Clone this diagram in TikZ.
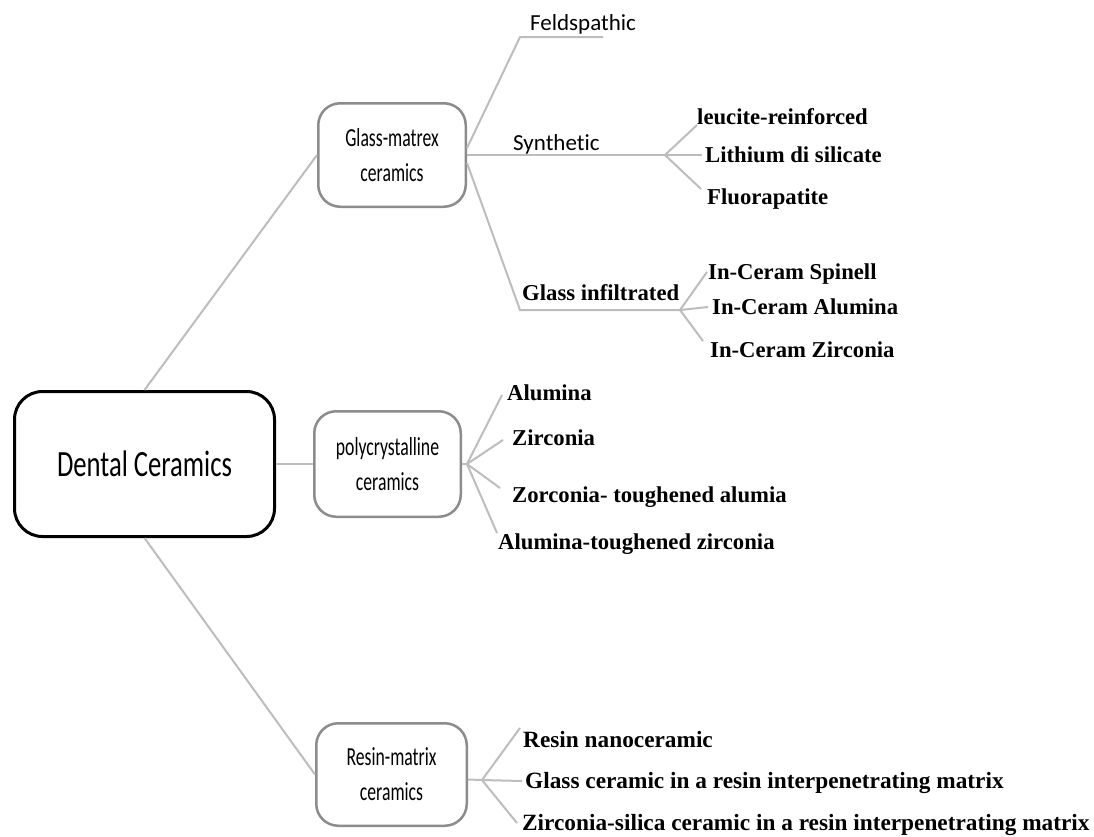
\documentclass[tikz,border=0pt]{standalone}
\usepackage{fontspec}
\newfontfamily\calfont[Ligatures=NoCommon]{Carlito}
\newfontfamily\tnrfont{Liberation Serif}
\definecolor{linegrey}{HTML}{BDBDBD}
\definecolor{boxgrey}{HTML}{8C8C8C}
\begin{document}
\begin{tikzpicture}[x=1pt,y=-1pt,
  conn/.style={draw=linegrey,line width=2pt},
  mainbox/.style={draw=black,line width=3pt,rounded corners=28pt,minimum width=260pt,minimum height=145pt,inner sep=0pt},
  catbox/.style={draw=boxgrey,line width=2.5pt,rounded corners=22pt,inner sep=0pt,align=center,font=\calfont\fontsize{26}{35}\selectfont},
  leaf/.style={anchor=west,inner sep=0pt,font=\tnrfont\bfseries\fontsize{22.7}{26}\selectfont,text height=15pt,text depth=0pt},
  rleaf/.style={leaf,font=\tnrfont\bfseries\fontsize{23.3}{26}\selectfont},
  sub/.style={anchor=base west,inner sep=0pt,font=\calfont\fontsize{23}{26}\selectfont}]
\fill[white] (0,0) rectangle (1094,836);
\useasboundingbox (0,0) rectangle (1094,836);

% main and category boxes
\node[mainbox] (dc) at (144.5,464) {\calfont\fontsize{37}{40}\selectfont\scalebox{0.72}[1]{Dental Ceramics}};
\node[catbox,minimum width=147.5pt,minimum height=103.5pt] (gm) at (392,155) {\scalebox{0.68}[1]{Glass-matrex}\\\scalebox{0.68}[1]{ceramics}};
\node[catbox,minimum width=146.5pt,minimum height=105.5pt] (pc) at (387.5,464) {\scalebox{0.68}[1]{polycrystalline}\\\scalebox{0.68}[1]{ceramics}};
\node[catbox,minimum width=150.5pt,minimum height=102.5pt] (rm) at (391.5,774.5) {\scalebox{0.68}[1]{Resin-matrix}\\\scalebox{0.68}[1]{ceramics}};

\draw[conn] (dc.north) -- (gm.west);
\draw[conn] (dc.east) -- (pc.west);
\draw[conn] (dc.south) -- (rm.west);

% glass-matrix sub-branches
\node[sub] (feld) at (530,30) {Feldspathic};
\node[sub] (syn) at (513,150) {Synthetic};
\node[leaf] (gi) at (522,293) {Glass infiltrated};
\coordinate (fl) at (520,37);
\coordinate (fr) at (603,37);
\coordinate (sj) at (665,155);
\coordinate (gil) at (520,310);
\coordinate (gj) at (680,310);
\draw[conn] ([yshift=7pt]gm.east) -- (fl) -- (fr);
\draw[conn] (gm.east) -- (sj);
\draw[conn] ([yshift=-8pt]gm.east) -- (gil) -- (gj);

\node[leaf] (leu) at (697,117) {leucite-reinforced};
\node[leaf] (lit) at (705,155) {Lithium di silicate};
\node[leaf] (flu) at (707,197) {Fluorapatite};
\draw[conn] (sj) -- ([yshift=-8pt]leu.west);
\draw[conn] (sj) -- ([xshift=-3pt]lit.west);
\draw[conn] (sj) -- ([xshift=-6pt,yshift=8pt]flu.west);

\node[leaf] (spi) at (708,272) {In-Ceram Spinell};
\node[leaf] (alu) at (712,307) {In-Ceram Alumina};
\node[leaf] (zir) at (710,350) {In-Ceram Zirconia};
\draw[conn] (gj) -- ([xshift=-1pt]spi.west);
\draw[conn] (gj) -- ([xshift=-4pt]alu.west);
\draw[conn] (gj) -- ([xshift=-7pt,yshift=9pt]zir.west);

% polycrystalline
\coordinate (pj) at (467,464);
\draw[conn] (pc.east) -- (pj);
\node[leaf] (pa) at (507,393) {Alumina};
\node[leaf] (pz) at (512,438) {Zirconia};
\node[leaf] (pzt) at (512,495) {Zorconia- toughened alumia};
\node[leaf] (pat) at (498,542) {Alumina-toughened zirconia};
\draw[conn] (pj) -- ([xshift=-5pt,yshift=-2pt]pa.west);
\draw[conn] (pj) -- ([xshift=-9pt,yshift=-2pt]pz.west);
\draw[conn] (pj) -- ([xshift=-12pt,yshift=7pt]pzt.west);
\draw[conn] (pj) -- ([xshift=-1pt,yshift=9pt]pat.west);

% resin-matrix
\coordinate (rj) at (482,780);
\draw[conn] ([yshift=-5pt]rm.east) -- (rj);
\node[rleaf] (rn) at (523,740) {Resin nanoceramic};
\node[rleaf] (rg) at (525,781) {Glass ceramic in a resin interpenetrating matrix};
\node[rleaf] (rz) at (522,823) {Zirconia-silica ceramic in a resin interpenetrating matrix};
\draw[conn] (rj) -- ([xshift=-3pt,yshift=12pt]rn.west);
\draw[conn] (rj) -- ([xshift=-3pt]rg.west);
\draw[conn] (rj) -- ([xshift=-5pt]rz.west);
\end{tikzpicture}
\end{document}
